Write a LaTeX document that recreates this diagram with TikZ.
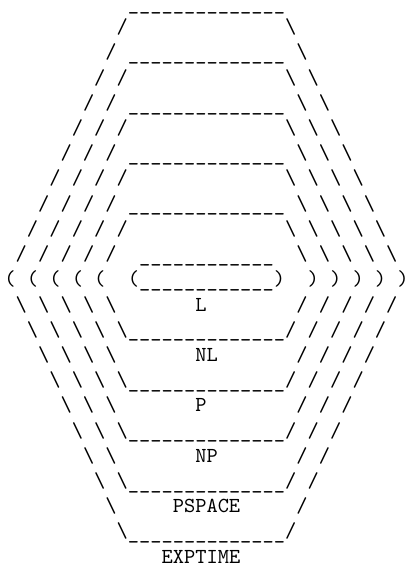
\documentclass[tikz,border=0pt]{standalone}
\newlength\cw
\setlength\cw{5.25pt}
\newcommand\gap[1]{\hspace*{#1\cw}}
\newcommand\bsl{\textbackslash}
\newcommand\ulong{\raisebox{-0.8pt}{\_\_\_\_\_\_\_\_\_\_\_\_\_\_}}
\newcommand\ushort{\raisebox{-0.8pt}{\_\_\_\_\_\_\_\_\_\_\_\_}}
\newcommand\fsp{/\gap{1}}
\newcommand\spb{\gap{1}\textbackslash}
\newcommand\spf{\gap{1}/}
\tikzset{art/.style={anchor=base west, inner sep=0pt, outer sep=0pt,
  font=\fontsize{10pt}{12pt}\selectfont\ttfamily}}
\begin{document}
\begin{tikzpicture}[x=0.4675pt, y=-0.4675pt]
\useasboundingbox (0,0) rectangle (408,569);
\def\xo{4.4}
\node[art] (r0)  at (\xo, 8.6+25.2*0)  {\gap{11}\ulong};
\node[art] (r1)  at (\xo, 8.6+25.2*1)  {\gap{10}/\gap{14}\bsl};
\node[art] (r2)  at (\xo, 8.6+25.2*2)  {\gap{9}\fsp\ulong\spb};
\node[art] (r3)  at (\xo, 8.6+25.2*3)  {\gap{8}\fsp/\gap{14}\bsl\spb};
\node[art] (r4)  at (\xo, 8.6+25.2*4)  {\gap{7}\fsp\fsp\ulong\spb\spb};
\node[art] (r5)  at (\xo, 8.6+25.2*5)  {\gap{6}\fsp\fsp/\gap{14}\bsl\spb\spb};
\node[art] (r6)  at (\xo, 8.6+25.2*6)  {\gap{5}\fsp\fsp\fsp\ulong\spb\spb\spb};
\node[art] (r7)  at (\xo, 8.6+25.2*7)  {\gap{4}\fsp\fsp\fsp/\gap{14}\bsl\spb\spb\spb};
\node[art] (r8)  at (\xo, 8.6+25.2*8)  {\gap{3}\fsp\fsp\fsp\fsp\ulong\spb\spb\spb\spb};
\node[art] (r9)  at (\xo, 8.6+25.2*9)  {\gap{2}\fsp\fsp\fsp\fsp/\gap{14}\bsl\spb\spb\spb\spb};
\node[art] (r10) at (\xo, 8.6+25.2*10) {\gap{1}\fsp\fsp\fsp\fsp\fsp\gap{1}\ushort\gap{1}\spb\spb\spb\spb\spb};
\node[art] (r11) at (\xo, 8.6+25.2*11) {(\gap{1}(\gap{1}(\gap{1}(\gap{1}(\gap{2}(\ushort)\gap{2})\gap{1})\gap{1})\gap{1})\gap{1})};
\node[art] (r12) at (\xo, 8.6+25.2*12) {\gap{1}\bsl\spb\spb\spb\spb\gap{7}L\gap{8}/\spf\spf\spf\spf};
\node[art] (r13) at (\xo, 8.6+25.2*13) {\gap{2}\bsl\spb\spb\spb\spb\ulong/\spf\spf\spf\spf};
\node[art] (r14) at (\xo, 8.6+25.2*14) {\gap{3}\bsl\spb\spb\spb\gap{7}NL\gap{7}/\spf\spf\spf};
\node[art] (r15) at (\xo, 8.6+25.2*15) {\gap{4}\bsl\spb\spb\spb\ulong/\spf\spf\spf};
\node[art] (r16) at (\xo, 8.6+25.2*16) {\gap{5}\bsl\spb\spb\gap{7}P\gap{8}/\spf\spf};
\node[art] (r17) at (\xo, 8.6+25.2*17) {\gap{6}\bsl\spb\spb\ulong/\spf\spf};
\node[art] (r18) at (\xo, 8.6+25.2*18) {\gap{7}\bsl\spb\gap{7}NP\gap{7}/\spf};
\node[art] (r19) at (\xo, 8.6+25.2*19) {\gap{8}\bsl\spb\ulong/\spf};
\node[art] (r20) at (\xo, 8.6+25.2*20) {\gap{9}\bsl\gap{5}PSPACE\gap{5}/};
\node[art] (r21) at (\xo, 8.6+25.2*21) {\gap{10}\bsl\ulong/};
\node[art] (r22) at (\xo, 8.6+25.2*22) {\gap{14}EXPTIME};
\end{tikzpicture}
\end{document}
